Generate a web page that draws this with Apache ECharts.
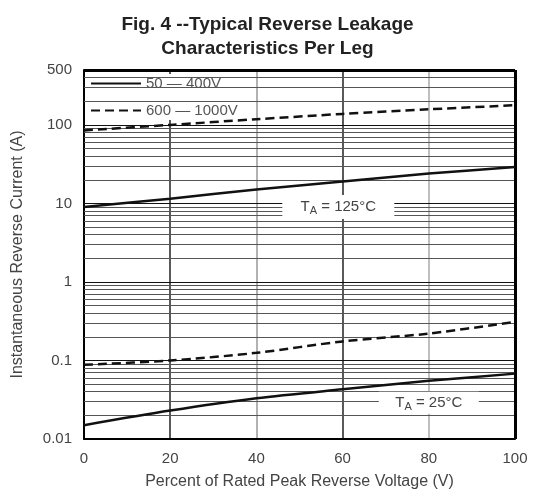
<!DOCTYPE html>
<html>
<head>
<meta charset="utf-8">
<script src="https://cdn.jsdelivr.net/npm/echarts@6/dist/echarts.min.js"></script>
<style>
  html, body { margin: 0; padding: 0; background: #fff; }
  #chart { width: 535px; height: 499px; }
</style>
</head>
<body>
<div id="chart"></div>
<script>
// percent of rated peak reverse voltage
const xValues = [0, 20, 40, 60, 80, 100];
// Ta = 125C
const hot50to400 = [9.0, 11.5, 15, 19, 24, 29];
const hot600to1000 = [85, 100, 118, 138, 158, 178];
// Ta = 25C
const cold50to400 = [0.015, 0.023, 0.033, 0.043, 0.055, 0.068];
const cold600to1000 = [0.088, 0.1, 0.125, 0.175, 0.22, 0.31];

const yMin = 0.01;
const yMax = 500;

function pairs(ys) {
  return xValues.map((x, i) => [x, ys[i]]);
}

// log minor gridlines 2..9 per decade
const minorLines = [];
for (let d = 0.01; d < yMax; d *= 10) {
  for (let k = 2; k <= 9; k++) {
    const v = +(d * k).toPrecision(3);
    if (v < yMax) minorLines.push({ yAxis: v });
  }
}
const majorLines = [0.1, 1, 10, 100].map(v => ({ yAxis: v }));

const chart = echarts.init(document.getElementById('chart'));

const solid = { color: '#111', width: 2.5, type: 'solid' };
const dashed = { color: '#111', width: 2.5, type: [9, 5] };

const labelRich = {
  t: { fontSize: 15, color: '#444', fontFamily: 'Liberation Sans' },
  s: { fontSize: 11, color: '#444', fontFamily: 'Liberation Sans', padding: [8, 0, 0, 0] }
};

const option = {
  animation: false,
  title: {
    text: 'Fig. 4 --Typical Reverse Leakage\nCharacteristics Per Leg',
    left: 'center',
    top: 8,
    textStyle: {
      fontFamily: 'Liberation Sans',
      fontSize: 19,
      fontWeight: 'bold',
      color: '#222',
      lineHeight: 24
    }
  },
  legend: {
    orient: 'vertical',
    left: 86,
    top: 74,
    itemWidth: 50,
    itemHeight: 10,
    itemGap: 12,
    padding: [2, 4, 2, 4],
    backgroundColor: '#fff',
    itemStyle: { opacity: 0 },
    data: ['50 — 400V', '600 — 1000V'],
    textStyle: { fontFamily: 'Liberation Sans', fontSize: 15, color: '#555' }
  },
  grid: { left: 84, right: 20, top: 70, bottom: 60 },
  xAxis: {
    type: 'value',
    min: 0,
    max: 100,
    interval: 20,
    name: 'Percent of Rated Peak Reverse Voltage (V)',
    nameLocation: 'middle',
    nameGap: 35,
    nameTextStyle: { fontFamily: 'Liberation Sans', fontSize: 16, color: '#444' },
    axisLine: { show: true, lineStyle: { color: '#000', width: 2 } },
    axisTick: { show: false },
    axisLabel: { fontFamily: 'Liberation Sans', fontSize: 15, color: '#444', margin: 12 },
    splitLine: {
      show: true,
      lineStyle: { color: ['#000', '#222', '#999', '#222', '#aaa', '#000'], width: 1.5 }
    }
  },
  yAxis: {
    type: 'log',
    logBase: 10,
    min: yMin,
    max: yMax,
    name: 'Instantaneous Reverse Current (A)',
    nameLocation: 'middle',
    nameGap: 58,
    nameTextStyle: { fontFamily: 'Liberation Sans', fontSize: 16, color: '#444' },
    axisLine: { show: true, lineStyle: { color: '#000', width: 2 } },
    axisTick: { show: false },
    axisLabel: {
      fontFamily: 'Liberation Sans', fontSize: 15, color: '#444', margin: 12,
      formatter: v => String(+v.toPrecision(3))
    },
    splitLine: { show: false }
  },
  series: [
    {
      // gridlines and frame
      type: 'line',
      data: [],
      silent: true,
      markLine: {
        symbol: 'none',
        silent: true,
        animation: false,
        label: { show: false },
        data: [
          ...minorLines.map(l => ({ ...l, lineStyle: { color: '#555', width: 1, type: 'solid' } })),
          ...majorLines.map(l => ({ ...l, lineStyle: { color: '#111', width: 1.2, type: 'solid' } })),
          { yAxis: yMax, lineStyle: { color: '#000', width: 3, type: 'solid' } },
          { xAxis: 100, lineStyle: { color: '#000', width: 3, type: 'solid' } }
        ]
      }
    },
    {
      name: '50 — 400V',
      type: 'line',
      data: pairs(hot50to400),
      smooth: 0.3,
      symbol: 'none',
      lineStyle: solid,
      itemStyle: { color: '#111' },
      z: 5,
      markPoint: {
        silent: true,
        data: [{
          coord: [59, 9],
          symbol: 'rect',
          symbolSize: [112, 24],
          itemStyle: { color: '#fff' },
          label: {
            show: true, position: 'inside',
            formatter: '{t|T}{s|A}{t| = 125°C}', rich: labelRich
          }
        }]
      }
    },
    {
      name: '600 — 1000V',
      type: 'line',
      data: pairs(hot600to1000),
      smooth: 0.3,
      symbol: 'none',
      lineStyle: dashed,
      itemStyle: { color: '#111' },
      z: 5
    },
    {
      name: '50 — 400V',
      type: 'line',
      data: pairs(cold50to400),
      smooth: 0.3,
      symbol: 'none',
      lineStyle: solid,
      itemStyle: { color: '#111' },
      z: 5,
      markPoint: {
        silent: true,
        data: [{
          coord: [80, 0.029],
          symbol: 'rect',
          symbolSize: [100, 22],
          itemStyle: { color: '#fff' },
          label: {
            show: true, position: 'inside',
            formatter: '{t|T}{s|A}{t| = 25°C}', rich: labelRich
          }
        }]
      }
    },
    {
      name: '600 — 1000V',
      type: 'line',
      data: pairs(cold600to1000),
      smooth: 0.3,
      symbol: 'none',
      lineStyle: dashed,
      itemStyle: { color: '#111' },
      z: 5
    }
  ]
};

chart.setOption(option);
</script>
</body>
</html>
